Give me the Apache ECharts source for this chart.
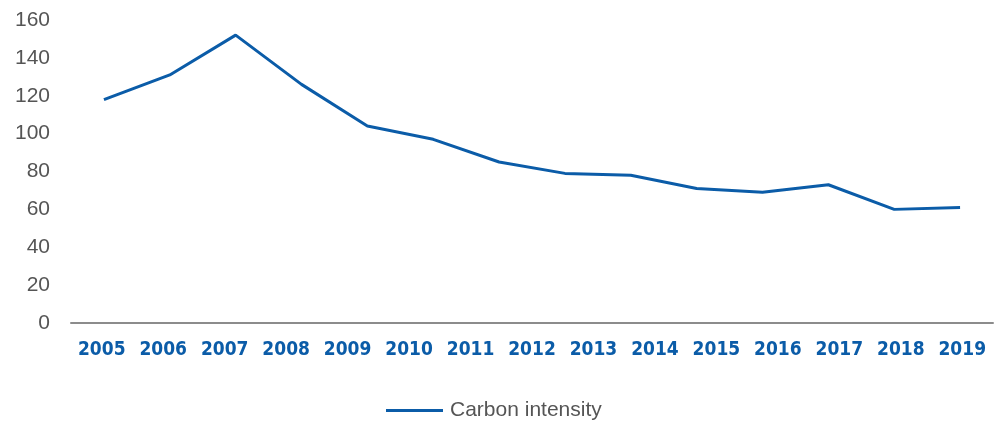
<!DOCTYPE html>
<html>
<head>
<meta charset="utf-8">
<script src="https://cdn.jsdelivr.net/npm/echarts@6/dist/echarts.min.js"></script>
<style>
html, body { margin: 0; padding: 0; background: #fff; }
#main { width: 1001px; height: 429px; }
</style>
</head>
<body>
<div id="main"></div>
<script>
// tick labels of the visible axis
const years = ['2005', '2006', '2007', '2008', '2009', '2010', '2011', '2012', '2013', '2014', '2015', '2016', '2017', '2018', '2019'];
// the line in the picture has 14 points spread over the whole width
const lineYears = ['2005', '2006', '2007', '2008', '2009', '2010', '2011', '2012', '2013', '2014', '2015', '2016', '2017', '2018'];
const carbonIntensity = [118, 131, 152, 126, 104, 97, 85, 79, 78, 71, 69, 73, 60, 61];
const yTicks = [0, 20, 40, 60, 80, 100, 120, 140, 160];

const chart = echarts.init(document.getElementById('main'));
const option = {
    animation: false,
    grid: { left: 71, right: 8, top: 20, bottom: 106 },
    legend: {
        bottom: 3,
        left: 381,
        icon: 'rect',
        itemWidth: 57,
        itemHeight: 3,
        itemGap: 10,
        textStyle: { fontFamily: 'Liberation Sans', fontSize: 21, color: '#555', padding: [0, 0, 0, 2] },
        data: ['Carbon intensity']
    },
    xAxis: [{
        type: 'category',
        data: years,
        boundaryGap: true,
        axisLine: { lineStyle: { color: '#8c8c8c', width: 2 } },
        axisTick: { show: false },
        axisLabel: {
            interval: 0,
            margin: 18,
            fontFamily: "'Liberation Sans Narrow', 'DejaVu Sans Condensed', sans-serif",
            fontWeight: 'bold',
            fontSize: 19,
            color: '#0b5ca8'
        }
    }, {
        type: 'category',
        data: lineYears,
        boundaryGap: true,
        show: false
    }],
    yAxis: {
        type: 'value',
        min: yTicks[0],
        max: yTicks[yTicks.length - 1],
        interval: 20,
        axisLine: { show: false },
        axisTick: { show: false },
        splitLine: { show: false },
        axisLabel: {
            margin: 21,
            fontFamily: 'Liberation Sans',
            fontSize: 21,
            color: '#555'
        }
    },
    series: [{
        name: 'Carbon intensity',
        type: 'line',
        xAxisIndex: 1,
        data: carbonIntensity,
        symbol: 'none',
        lineStyle: { color: '#0b5ca8', width: 3 },
        itemStyle: { color: '#0b5ca8' }
    }]
};
chart.setOption(option);
</script>
</body>
</html>
